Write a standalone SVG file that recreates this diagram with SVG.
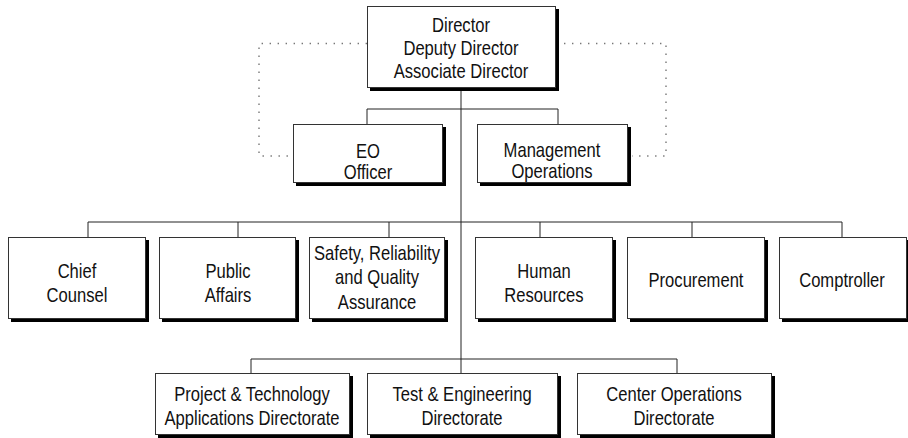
<svg xmlns="http://www.w3.org/2000/svg" width="908" height="438" viewBox="0 0 908 438">
<style>
.sh{fill:#000}
.bx{fill:#fff;stroke:#333;stroke-width:1}
.ln{fill:none;stroke:#222;stroke-width:1}
.dt{fill:none;stroke:#777;stroke-width:1.4;stroke-dasharray:1.4 6.6}
text{font-family:"Liberation Sans",Arial,sans-serif;font-size:20px;fill:#111;text-anchor:middle}
</style>
<rect width="908" height="438" fill="#fff"/>
<g id="connectors">
<path class="dt" d="M556,43.5 H666 V156 H632"/>
<path class="dt" d="M367,43.5 H259 V156 H293"/>
<path class="ln" d="M461,88 V373"/>
<path class="ln" d="M367,124 V109 H558 V124"/>
<path class="ln" d="M88,237 V222 H842 V237 M238,222 V237 M389,222 V237 M540,222 V237 M692,222 V237"/>
<path class="ln" d="M251,373 V359 H677 V373"/>
</g>
<g id="director">
<rect class="sh" x="370" y="9" width="189" height="82"/>
<rect class="bx" x="367.5" y="6.5" width="188" height="81"/>
<text transform="translate(461,32) scale(0.83,1)"><tspan x="0">Director</tspan><tspan x="0" dy="23">Deputy Director</tspan><tspan x="0" dy="23">Associate Director</tspan></text>
</g>
<g id="eo-officer">
<rect class="sh" x="296" y="127" width="150" height="59"/>
<rect class="bx" x="293.5" y="124.5" width="149" height="58"/>
<text transform="translate(368,158) scale(0.83,1)"><tspan x="0">EO</tspan><tspan x="0" dy="21">Officer</tspan></text>
</g>
<g id="management-operations">
<rect class="sh" x="480" y="127" width="151" height="59"/>
<rect class="bx" x="477.5" y="124.5" width="150" height="58"/>
<text transform="translate(552,157) scale(0.83,1)"><tspan x="0">Management</tspan><tspan x="0" dy="21">Operations</tspan></text>
</g>
<g id="chief-counsel">
<rect class="sh" x="11" y="240" width="138" height="82"/>
<rect class="bx" x="8.5" y="237.5" width="137" height="81"/>
<text transform="translate(77,278) scale(0.83,1)"><tspan x="0">Chief</tspan><tspan x="0" dy="24">Counsel</tspan></text>
</g>
<g id="public-affairs">
<rect class="sh" x="162" y="240" width="137" height="82"/>
<rect class="bx" x="159.5" y="237.5" width="136" height="81"/>
<text transform="translate(228,278) scale(0.83,1)"><tspan x="0">Public</tspan><tspan x="0" dy="24">Affairs</tspan></text>
</g>
<g id="safety">
<rect class="sh" x="312" y="240" width="136" height="82"/>
<rect class="bx" x="309.5" y="237.5" width="135" height="81"/>
<text transform="translate(377,260) scale(0.83,1)"><tspan x="0">Safety, Reliability</tspan><tspan x="0" dy="24.5">and Quality</tspan><tspan x="0" dy="24.5">Assurance</tspan></text>
</g>
<g id="human-resources">
<rect class="sh" x="478" y="240" width="138" height="82"/>
<rect class="bx" x="475.5" y="237.5" width="137" height="81"/>
<text transform="translate(544,278) scale(0.83,1)"><tspan x="0">Human</tspan><tspan x="0" dy="24">Resources</tspan></text>
</g>
<g id="procurement">
<rect class="sh" x="630" y="240" width="138" height="82"/>
<rect class="bx" x="627.5" y="237.5" width="137" height="81"/>
<text transform="translate(696,287) scale(0.83,1)">Procurement</text>
</g>
<g id="comptroller">
<rect class="sh" x="782" y="240" width="128" height="82"/>
<rect class="bx" x="779.5" y="237.5" width="127" height="81"/>
<text transform="translate(842,287) scale(0.83,1)">Comptroller</text>
</g>
<g id="project-technology">
<rect class="sh" x="158" y="376" width="195" height="62"/>
<rect class="bx" x="155.5" y="373.5" width="194" height="61"/>
<text transform="translate(252,401) scale(0.83,1)"><tspan x="0">Project &amp; Technology</tspan><tspan x="0" dy="24">Applications Directorate</tspan></text>
</g>
<g id="test-engineering">
<rect class="sh" x="370" y="376" width="191" height="62"/>
<rect class="bx" x="367.5" y="373.5" width="190" height="61"/>
<text transform="translate(462,401) scale(0.83,1)"><tspan x="0">Test &amp; Engineering</tspan><tspan x="0" dy="24">Directorate</tspan></text>
</g>
<g id="center-operations">
<rect class="sh" x="580" y="376" width="195" height="62"/>
<rect class="bx" x="577.5" y="373.5" width="194" height="61"/>
<text transform="translate(674,401) scale(0.83,1)"><tspan x="0">Center Operations</tspan><tspan x="0" dy="24">Directorate</tspan></text>
</g>
</svg>
